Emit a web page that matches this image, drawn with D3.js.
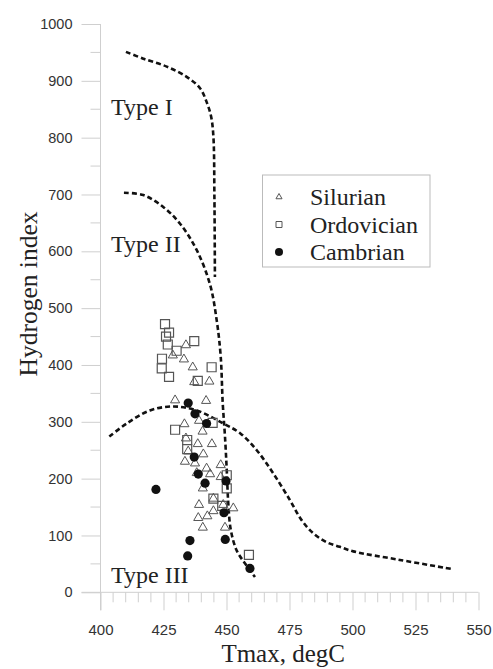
<!DOCTYPE html>
<html>
<head>
<meta charset="utf-8">
<script src="https://cdn.jsdelivr.net/npm/d3@7"></script>
<style>
  html, body { margin: 0; padding: 0; background: #fff; }
  svg { display: block; }
</style>
</head>
<body>
<svg id="chart" width="493" height="669"></svg>
<script>
// Kerogen type diagram: Hydrogen index vs Tmax

// Axis ticks
const xTicks = [400, 425, 450, 475, 500, 525, 550];
const yTicks = [0, 100, 200, 300, 400, 500, 600, 700, 800, 900, 1000];

// Silurian samples
const silurianTmax = [433.9, 428.7, 433.1, 436.6, 437.2, 443.2, 429.6, 441.9, 433.3, 439.1, 440.5,
  433.9, 438.6, 444.2, 434.8, 440.8, 433.5, 437.5, 442.1, 447.7, 438.2, 443.5, 447.7, 440.6,
  444.8, 439.1, 448.7, 452.7, 444.8, 442.4, 438.8, 440.6, 449.4];
const silurianHI = [435, 417, 410, 396, 370, 371, 338, 337, 296, 302, 283,
  271, 261, 261, 248, 243, 230, 227, 218, 224, 210, 208, 203, 183,
  165, 154, 154, 148, 143, 134, 131, 114, 114];

// Ordovician samples
const ordovicianTmax = [425.6, 427.2, 426.0, 426.7, 430.2, 437.2, 424.4, 424.3, 427.2, 444.1,
  438.6, 429.6, 434.4, 434.4, 444.5, 450.1, 450.1, 444.8, 448.3, 458.9];
const ordovicianHI = [472, 457, 450, 436, 425, 442, 411, 394, 379, 396,
  372, 286, 268, 252, 298, 206, 183, 165, 152, 66];

// Cambrian samples
const cambrianTmax = [434.8, 437.5, 442.1, 437.2, 438.8, 441.5, 422.0, 449.8, 449.0, 449.5, 435.5, 434.6, 459.3];
const cambrianHI = [333, 314, 297, 238, 208, 192, 181, 196, 140, 93, 91, 64, 42];

// Kerogen type evolution paths
const typeITmax = [410.1, 417.0, 426.3, 434.2, 439.5, 442.1, 443.9, 444.8, 445.2, 445.4];
const typeIHI = [951, 939, 925, 907, 887, 863, 837, 802, 696, 555];

const typeIITmax = [409.3, 417.0, 424.9, 431.5, 438.2, 443.5, 446.1, 447.7, 448.5, 449.4, 450.1, 450.7, 451.7, 454.0, 457.3, 461.3];
const typeIIHI = [703, 699, 678, 649, 602, 541, 479, 415, 333, 274, 215, 157, 110, 74, 51, 27];

const typeIIITmax = [403.5, 410.4, 419.6, 428.9, 438.2, 448.7, 455.4, 462.0, 468.6, 475.2, 479.8, 484.4, 489.8, 495.0, 500.3, 518.8, 539.4];
const typeIIIHI = [274, 297, 320, 327, 320, 297, 280, 250, 209, 162, 127, 104, 88, 80, 72, 57, 41];

const typeLabels = ["Type I", "Type II", "Type III"];
const typeLabelHI = [840, 599, 16];

const legendNames = ["Silurian", "Ordovician", "Cambrian"];

const svg = d3.select("#chart");
const x = d3.scaleLinear().domain([400, 550]).range([100.5, 478.5]);
const y = d3.scaleLinear().domain([0, 1000]).range([592.3, 24]);

const axisColor = "#cfcfcf";
const textColor = "#333";
const serif = "'Liberation Serif', 'Times New Roman', serif";
const sans = "'Liberation Sans', Arial, sans-serif";

// Minor ticks
const gMinor = svg.append("g");
d3.range(400, 551, 5).forEach(v => {
  if (v % 25 === 0) return;
  gMinor.append("line").attr("x1", x(v)).attr("x2", x(v))
    .attr("y1", y(0)).attr("y2", y(0) + 10)
    .attr("stroke", axisColor).attr("stroke-width", 1);
});
d3.range(50, 1000, 100).forEach(v => {
  gMinor.append("line").attr("x1", x(400) - 10).attr("x2", x(400))
    .attr("y1", y(v)).attr("y2", y(v))
    .attr("stroke", axisColor).attr("stroke-width", 1);
});

// Y axis
const yAxis = svg.append("g")
  .attr("transform", `translate(${x(400)},0)`)
  .call(d3.axisLeft(y).tickValues(yTicks).tickFormat(d3.format("d"))
    .tickSize(19).tickPadding(9).tickSizeOuter(0));
yAxis.select(".domain").remove();
yAxis.append("line").attr("x1", 0).attr("x2", 0).attr("y1", y(1000)).attr("y2", y(0) + 18)
  .attr("stroke", axisColor);
yAxis.selectAll(".tick line").attr("stroke", axisColor);
yAxis.selectAll(".tick text").attr("fill", textColor).style("font-family", sans).style("font-size", "14.5px");

// X axis
const xAxis = svg.append("g")
  .attr("transform", `translate(0,${y(0)})`)
  .call(d3.axisBottom(x).tickValues(xTicks).tickFormat(d3.format("d"))
    .tickSize(18).tickPadding(14).tickSizeOuter(0));
xAxis.select(".domain").remove();
xAxis.append("line").attr("x1", x(400) - 19).attr("x2", x(550)).attr("y1", 0).attr("y2", 0)
  .attr("stroke", axisColor);
xAxis.selectAll(".tick line").attr("stroke", axisColor);
xAxis.selectAll(".tick text").attr("fill", textColor).style("font-family", sans).style("font-size", "15px");

// Axis titles
svg.append("text").attr("x", x(472.5)).attr("y", 662)
  .attr("text-anchor", "middle").attr("fill", "#222")
  .style("font-family", serif).style("font-size", "25px").text("Tmax, degC");
svg.append("text").attr("transform", "translate(37,294) rotate(-90)")
  .attr("text-anchor", "middle").attr("fill", "#222")
  .style("font-family", serif).style("font-size", "25.5px").text("Hydrogen index");

// Evolution paths
const line = d3.line().x(d => x(d[0])).y(d => y(d[1])).curve(d3.curveCatmullRom.alpha(0.5));
[[typeITmax, typeIHI], [typeIITmax, typeIIHI], [typeIIITmax, typeIIIHI]].forEach(([ts, hs]) => {
  svg.append("path").datum(d3.zip(ts, hs)).attr("d", line)
    .attr("fill", "none").attr("stroke", "#111").attr("stroke-width", 2.6)
    .attr("stroke-dasharray", "5,3");
});

// Type labels (baseline placed at the given HI level)
typeLabels.forEach((t, i) => {
  svg.append("text").attr("x", 111).attr("y", y(typeLabelHI[i]))
    .attr("fill", "#222").style("font-family", serif).style("font-size", "24px").text(t);
});

// Sample markers
const tri = d3.symbol(d3.symbolTriangle, 36);
const sq = d3.symbol(d3.symbolSquare, 81);
svg.append("g").selectAll("path").data(d3.zip(silurianTmax, silurianHI)).join("path")
  .attr("d", tri).attr("transform", d => `translate(${x(d[0])},${y(d[1])})`)
  .attr("fill", "none").attr("stroke", "#555").attr("stroke-width", 1);
svg.append("g").selectAll("path").data(d3.zip(ordovicianTmax, ordovicianHI)).join("path")
  .attr("d", sq).attr("transform", d => `translate(${x(d[0])},${y(d[1])})`)
  .attr("fill", "none").attr("stroke", "#555").attr("stroke-width", 1.2);
svg.append("g").selectAll("circle").data(d3.zip(cambrianTmax, cambrianHI)).join("circle")
  .attr("cx", d => x(d[0])).attr("cy", d => y(d[1])).attr("r", 4.6).attr("fill", "#111");

// Legend
const lg = svg.append("g");
lg.append("rect").attr("x", 262.5).attr("y", 175).attr("width", 167.5).attr("height", 92)
  .attr("fill", "#fff").attr("stroke", "#bbb").attr("stroke-width", 1);
const legendSymbols = [
  d3.symbol(d3.symbolTriangle, 16)(),
  d3.symbol(d3.symbolSquare, 36)(),
  null
];
legendNames.forEach((name, i) => {
  const cy = 197 + i * 27.5;
  if (i === 2) {
    lg.append("circle").attr("cx", 279).attr("cy", cy).attr("r", 4).attr("fill", "#111");
  } else {
    lg.append("path").attr("d", legendSymbols[i]).attr("transform", `translate(279,${cy})`)
      .attr("fill", "none").attr("stroke", "#555").attr("stroke-width", 1);
  }
  lg.append("text").attr("x", 310).attr("y", cy + 8).attr("fill", "#222")
    .style("font-family", serif).style("font-size", "24px").text(name);
});
</script>
</body>
</html>
